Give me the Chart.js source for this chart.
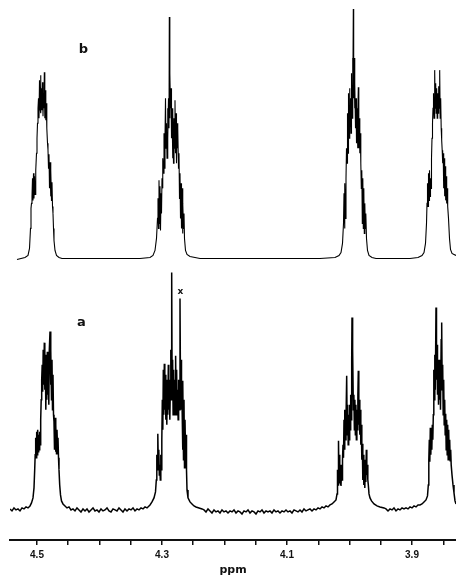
<!DOCTYPE html>
<html lang="en">
<head>
    <meta charset="UTF-8">
    <title>1H NMR spectrum, 3.85 - 4.5 ppm</title>
    <script src="https://cdn.jsdelivr.net/npm/chart.js@4.4.0/dist/chart.umd.min.js"></script>
    <style>
        body {
            margin: 0;
            padding: 0;
            background-color: #fff;
        }
        .chart-box {
            width: 456px;
            height: 576px;
            position: relative;
        }
    </style>
</head>
<body>
    <div class="chart-box">
        <canvas id="nmrChart"></canvas>
    </div>

    <script>
        // axis ticks (ppm), labelled every 0.2
        const tickPpm = [4.5, 4.45, 4.4, 4.35, 4.3, 4.25, 4.2, 4.15, 4.1, 4.05, 4.0, 3.95, 3.9, 3.85];
        const labelPpm = [4.5, 4.3, 4.1, 3.9];
        const traceNames = ['a', 'b'];
        const markedPeakPpm = 4.2712;   // "x" in trace a

        // trace b (simulated) : [ppm, relative intensity]
        const bM1 = [
            [4.5320, -1], [4.5192, 1], [4.5144, 3], [4.5120, 10], [4.5104, 30], [4.5096, 50], [4.5088, 55],
            [4.5080, 62], [4.5072, 80], [4.5064, 58], [4.5056, 85], [4.5048, 60], [4.5040, 82], [4.5032, 64], [4.5024, 78], [4.5016, 88],
            [4.5008, 105], [4.5000, 120], [4.4992, 135], [4.4984, 150],
            [4.4976, 160], [4.4968, 140], [4.4960, 178], [4.4952, 150], [4.4944, 183], [4.4936, 145], [4.4928, 170], [4.4920, 148],
            [4.4912, 176], [4.4904, 142], [4.4896, 165], [4.4888, 150], [4.4883, 186], [4.4875, 140], [4.4867, 168], [4.4859, 138],
            [4.4851, 155], [4.4843, 130], [4.4832, 115], [4.4824, 108],
            [4.4816, 90], [4.4808, 104], [4.4800, 70], [4.4792, 96], [4.4784, 62], [4.4776, 88], [4.4768, 58], [4.4760, 76], [4.4752, 52],
            [4.4744, 45], [4.4736, 30], [4.4728, 18], [4.4712, 8], [4.4688, 3], [4.4648, 1], [4.4600, 0]
        ];
        const bM2 = [
            [4.3352, 0], [4.3192, 1], [4.3144, 3], [4.3112, 8], [4.3088, 20], [4.3072, 40],
            [4.3064, 60], [4.3056, 30], [4.3048, 78], [4.3040, 35], [4.3032, 72], [4.3024, 28], [4.3016, 65], [4.3008, 45], [4.3000, 80], [4.2992, 70],
            [4.2984, 100], [4.2976, 85], [4.2968, 125], [4.2960, 90], [4.2952, 120], [4.2944, 160], [4.2936, 110], [4.2928, 135],
            [4.2920, 100], [4.2912, 150], [4.2904, 120], [4.2896, 160], [4.2888, 130], [4.2883, 241], [4.2877, 140], [4.2872, 185],
            [4.2864, 150], [4.2856, 170], [4.2848, 120],
            [4.2840, 150], [4.2832, 100], [4.2824, 145], [4.2816, 95], [4.2808, 140], [4.2800, 110], [4.2792, 158], [4.2784, 105],
            [4.2776, 145], [4.2768, 95], [4.2760, 135], [4.2752, 110], [4.2744, 130], [4.2736, 90], [4.2728, 105],
            [4.2720, 60], [4.2712, 85], [4.2704, 40], [4.2696, 75], [4.2688, 30], [4.2680, 70], [4.2672, 25], [4.2664, 55], [4.2656, 30], [4.2648, 45],
            [4.2640, 20], [4.2624, 8], [4.2600, 4], [4.2552, 2], [4.2472, 1], [4.2392, 0]
        ];
        const bM3 = [
            [4.0472, 0], [4.0232, 1], [4.0168, 3], [4.0136, 6], [4.0112, 15], [4.0096, 35],
            [4.0088, 65], [4.0080, 30], [4.0072, 75], [4.0064, 40], [4.0056, 80],
            [4.0048, 110], [4.0040, 95], [4.0032, 145], [4.0024, 105], [4.0016, 165], [4.0008, 120], [4.0000, 170], [3.9992, 130],
            [3.9984, 160], [3.9976, 125], [3.9968, 185], [3.9960, 140], [3.9952, 200], [3.9944, 150], [3.9939, 249], [3.9933, 160], [3.9928, 200], [3.9920, 150],
            [3.9912, 175], [3.9904, 130], [3.9896, 160], [3.9888, 115], [3.9880, 150], [3.9872, 110], [3.9864, 140], [3.9859, 171],
            [3.9851, 110], [3.9843, 140], [3.9835, 105], [3.9827, 125], [3.9819, 95],
            [3.9811, 70], [3.9803, 88], [3.9795, 35], [3.9787, 80], [3.9779, 30], [3.9771, 70], [3.9763, 25], [3.9755, 55], [3.9747, 30], [3.9739, 45],
            [3.9728, 20], [3.9712, 8], [3.9688, 3], [3.9640, 1], [3.9576, 0]
        ];
        const bM4 = [
            [3.9032, 0], [3.8904, 1], [3.8840, 3], [3.8808, 6], [3.8784, 15], [3.8768, 35], [3.8760, 55],
            [3.8752, 75], [3.8744, 52], [3.8736, 85], [3.8728, 58], [3.8720, 88], [3.8712, 62], [3.8704, 80], [3.8696, 70],
            [3.8688, 100], [3.8680, 120], [3.8672, 135], [3.8664, 150],
            [3.8656, 165], [3.8648, 140], [3.8637, 188], [3.8629, 150], [3.8621, 175], [3.8613, 145], [3.8605, 170], [3.8597, 140],
            [3.8589, 165], [3.8581, 145], [3.8573, 172], [3.8565, 150], [3.8557, 188], [3.8549, 140], [3.8541, 160], [3.8533, 130],
            [3.8525, 118], [3.8517, 108],
            [3.8509, 95], [3.8501, 105], [3.8493, 70], [3.8485, 100], [3.8477, 62], [3.8469, 92], [3.8461, 58], [3.8453, 82],
            [3.8445, 55], [3.8437, 70], [3.8429, 52],
            [3.8416, 40], [3.8400, 20], [3.8384, 9], [3.8360, 5], [3.8328, 4], [3.8296, 3]
        ];

        // trace a (observed) : [ppm, relative intensity]
        const aM1 = [
            [4.5432, 1], [4.5400, -1], [4.5368, 2], [4.5336, 0], [4.5304, 1], [4.5272, -1], [4.5240, 2], [4.5208, 1],
            [4.5176, 3], [4.5144, 2], [4.5112, 4], [4.5088, 7], [4.5064, 12], [4.5048, 22], [4.5037, 40], [4.5029, 55],
            [4.5021, 72], [4.5013, 52], [4.5005, 78], [4.4997, 55], [4.4989, 80], [4.4981, 58], [4.4973, 75], [4.4965, 60], [4.4957, 78], [4.4949, 65],
            [4.4941, 90], [4.4933, 110], [4.4925, 130],
            [4.4917, 145], [4.4909, 118], [4.4901, 160], [4.4893, 125], [4.4883, 167], [4.4875, 120], [4.4867, 155], [4.4859, 100],
            [4.4851, 150], [4.4843, 110], [4.4835, 158], [4.4827, 115], [4.4819, 150], [4.4811, 105], [4.4803, 160], [4.4792, 178],
            [4.4784, 125], [4.4776, 160], [4.4768, 110], [4.4760, 150], [4.4752, 100], [4.4744, 135],
            [4.4736, 95], [4.4728, 88], [4.4720, 60], [4.4712, 92], [4.4704, 58], [4.4696, 85], [4.4688, 56], [4.4680, 80], [4.4672, 62], [4.4664, 72],
            [4.4656, 52], [4.4648, 40], [4.4637, 25], [4.4624, 15], [4.4608, 9], [4.4584, 6], [4.4552, 4], [4.4520, 2], [4.4488, 3], [4.4456, 0]
        ];
        const aBase1 = [
            [4.4424, 1], [4.4392, -1], [4.4360, 2], [4.4328, 0], [4.4296, -2], [4.4264, 1], [4.4232, -1], [4.4200, 1],
            [4.4168, -2], [4.4136, 0], [4.4104, 2], [4.4072, -1], [4.4040, 0], [4.4008, -2], [4.3976, 1], [4.3944, -1],
            [4.3912, 0], [4.3880, 2], [4.3848, -1], [4.3816, -2], [4.3784, 1], [4.3752, 0], [4.3720, -1], [4.3688, 2],
            [4.3656, 0], [4.3624, -2], [4.3592, 1], [4.3560, -1], [4.3528, 1], [4.3496, 0], [4.3464, 2], [4.3432, -1],
            [4.3400, 1], [4.3368, 0], [4.3336, 2], [4.3304, 1], [4.3272, 3], [4.3240, 2], [4.3208, 4]
        ];
        const aM2 = [
            [4.3192, 5], [4.3160, 8], [4.3128, 12], [4.3104, 18], [4.3091, 30],
            [4.3083, 55], [4.3075, 40], [4.3067, 76], [4.3059, 45], [4.3051, 60], [4.3043, 35], [4.3035, 45], [4.3027, 30], [4.3019, 55], [4.3011, 40], [4.3003, 70],
            [4.2995, 110], [4.2987, 80], [4.2979, 140], [4.2971, 95], [4.2963, 146], [4.2955, 100], [4.2947, 135], [4.2939, 90], [4.2931, 120], [4.2923, 85],
            [4.2915, 130], [4.2907, 95], [4.2899, 145], [4.2891, 100], [4.2883, 130], [4.2875, 90], [4.2867, 120], [4.2859, 160], [4.2851, 110],
            [4.2845, 237], [4.2838, 120], [4.2830, 150], [4.2822, 95],
            [4.2814, 140], [4.2806, 100], [4.2798, 130], [4.2790, 95], [4.2782, 154], [4.2774, 105], [4.2766, 140], [4.2758, 95],
            [4.2750, 120], [4.2742, 90], [4.2734, 130], [4.2726, 100], [4.2712, 211], [4.2704, 120], [4.2696, 150], [4.2688, 100],
            [4.2680, 110], [4.2672, 60], [4.2664, 129], [4.2656, 50], [4.2648, 110], [4.2640, 42], [4.2632, 90], [4.2624, 60], [4.2616, 75],
            [4.2608, 40], [4.2600, 20], [4.2584, 12], [4.2552, 8], [4.2520, 6], [4.2488, 4], [4.2456, 3], [4.2408, 2], [4.2360, 1]
        ];
        const aBase2 = [
            [4.2328, 0], [4.2296, -2], [4.2264, 1], [4.2232, -1], [4.2200, -3], [4.2168, 0], [4.2136, -2], [4.2104, -1],
            [4.2072, -3], [4.2040, 0], [4.2008, -2], [4.1976, -1], [4.1944, -3], [4.1912, -1], [4.1880, -2], [4.1848, 0],
            [4.1816, -3], [4.1784, -1], [4.1752, -2], [4.1720, -4], [4.1688, -1], [4.1656, -2], [4.1624, 0], [4.1592, -3],
            [4.1560, -1], [4.1528, -2], [4.1496, -4], [4.1464, -1], [4.1432, -2], [4.1400, 0], [4.1368, -3], [4.1336, -1],
            [4.1304, -2], [4.1272, -1], [4.1240, -3], [4.1208, 0], [4.1176, -2], [4.1144, -1], [4.1112, -3], [4.1080, -1],
            [4.1048, -2], [4.1016, 0], [4.0984, -2], [4.0952, -1], [4.0920, -3], [4.0888, 0], [4.0856, -1], [4.0824, -2],
            [4.0792, 0], [4.0760, -2], [4.0728, 1], [4.0696, -1], [4.0664, 0], [4.0632, 1], [4.0600, -1], [4.0568, 1],
            [4.0536, 0], [4.0504, 2], [4.0472, 1], [4.0440, 3], [4.0408, 2], [4.0376, 4], [4.0344, 3]
        ];
        const aM3 = [
            [4.0312, 5], [4.0280, 6], [4.0248, 8], [4.0216, 10], [4.0200, 16],
            [4.0192, 40], [4.0184, 25], [4.0176, 69], [4.0168, 30], [4.0160, 55], [4.0152, 28], [4.0144, 45], [4.0136, 24], [4.0128, 40], [4.0120, 30], [4.0112, 50],
            [4.0104, 65], [4.0096, 52], [4.0088, 90], [4.0080, 60], [4.0072, 100], [4.0064, 70], [4.0056, 90], [4.0045, 134],
            [4.0037, 75], [4.0029, 105], [4.0021, 65], [4.0013, 95], [4.0005, 70], [3.9997, 105], [3.9989, 80], [3.9981, 115], [3.9973, 90],
            [3.9965, 150], [3.9960, 192], [3.9954, 130], [3.9946, 160], [3.9938, 100],
            [3.9930, 115], [3.9922, 80], [3.9914, 110], [3.9906, 75], [3.9898, 105], [3.9890, 70], [3.9882, 100], [3.9874, 80],
            [3.9866, 115], [3.9859, 139], [3.9851, 85], [3.9843, 110], [3.9835, 75], [3.9827, 100], [3.9819, 65], [3.9811, 85],
            [3.9803, 50], [3.9795, 66], [3.9787, 30], [3.9779, 55], [3.9771, 25], [3.9763, 45], [3.9755, 22], [3.9747, 50],
            [3.9739, 28], [3.9731, 60], [3.9723, 35], [3.9715, 45], [3.9707, 30], [3.9699, 25],
            [3.9688, 16], [3.9672, 12], [3.9648, 9], [3.9608, 6], [3.9560, 4], [3.9512, 3], [3.9448, 2]
        ];
        const aBase3 = [
            [3.9416, 1], [3.9384, -1], [3.9352, 1], [3.9320, 0], [3.9288, 2], [3.9256, -1], [3.9224, 1], [3.9192, 0],
            [3.9160, 2], [3.9128, 1], [3.9096, 2], [3.9064, 1], [3.9032, 3], [3.9000, 2], [3.8968, 4], [3.8936, 3],
            [3.8904, 5], [3.8872, 5], [3.8840, 6], [3.8808, 8], [3.8776, 10]
        ];
        const aM4 = [
            [3.8752, 14], [3.8739, 25], [3.8731, 50], [3.8723, 70], [3.8715, 48], [3.8707, 82], [3.8699, 55], [3.8691, 78],
            [3.8683, 60], [3.8675, 85], [3.8667, 70], [3.8659, 95],
            [3.8651, 140], [3.8643, 110], [3.8635, 155], [3.8627, 120], [3.8616, 202], [3.8608, 130], [3.8600, 165], [3.8592, 115],
            [3.8584, 150], [3.8576, 105], [3.8568, 140], [3.8560, 110], [3.8552, 150], [3.8544, 100], [3.8533, 170], [3.8525, 187],
            [3.8517, 120], [3.8509, 145], [3.8501, 95], [3.8493, 130], [3.8485, 85], [3.8477, 110], [3.8469, 75],
            [3.8461, 96], [3.8453, 60], [3.8445, 90], [3.8437, 55], [3.8429, 85], [3.8421, 50], [3.8413, 80], [3.8405, 52],
            [3.8397, 70], [3.8389, 49], [3.8381, 60], [3.8373, 45],
            [3.8360, 35], [3.8344, 25], [3.8328, 17], [3.8312, 9], [3.8296, 6]
        ];

        const toXY = pts => pts.map(p => ({ x: p[0], y: p[1] }));
        const traceA = toXY([...aM1, ...aBase1, ...aM2, ...aBase2, ...aM3, ...aBase3, ...aM4]);
        const traceB = toXY([...bM1, ...bM2, ...bM3, ...bM4]);

        // letters a / b and the x mark, drawn at data positions
        const labelPlugin = {
            id: 'traceLabels',
            afterDatasetsDraw(chart) {
                const ctx = chart.ctx;
                const xs = chart.scales.x;
                const ya = chart.scales.yA;
                const yb = chart.scales.yB;
                ctx.save();
                ctx.fillStyle = '#111';
                ctx.textAlign = 'center';
                ctx.textBaseline = 'alphabetic';
                ctx.font = 'bold 13px "DejaVu Sans"';
                ctx.fillText(traceNames[1], xs.getPixelForValue(4.4256), yb.getPixelForValue(205));
                ctx.fillText(traceNames[0], xs.getPixelForValue(4.4288), ya.getPixelForValue(184));
                ctx.font = 'bold 9px "DejaVu Sans"';
                ctx.fillText('x', xs.getPixelForValue(markedPeakPpm - 0.0008), ya.getPixelForValue(216));
                ctx.restore();
            }
        };

        const lineStyle = {
            borderColor: '#000',
            pointRadius: 0,
            tension: 0,
            fill: false
        };

        new Chart(document.getElementById('nmrChart'), {
            type: 'line',
            data: {
                datasets: [
                    { label: 'b', data: traceB, yAxisID: 'yB', borderWidth: 1.1, ...lineStyle },
                    { label: 'a', data: traceA, yAxisID: 'yA', borderWidth: 1.5, ...lineStyle }
                ]
            },
            options: {
                responsive: true,
                maintainAspectRatio: false,
                animation: false,
                layout: { padding: { left: 10, right: 0, top: 0, bottom: 0 } },
                plugins: {
                    legend: { display: false },
                    tooltip: { enabled: false }
                },
                scales: {
                    x: {
                        type: 'linear',
                        reverse: true,
                        min: 3.8296,
                        max: 4.5432,
                        afterBuildTicks: scale => {
                            scale.ticks = tickPpm.map(v => ({ value: v }));
                        },
                        ticks: {
                            autoSkip: false,
                            maxRotation: 0,
                            padding: 5,
                            color: '#111',
                            font: { family: '"Liberation Sans"', size: 10, weight: 'bold', lineHeight: 1.0 },
                            callback: v => labelPpm.some(l => Math.abs(l - v) < 1e-6) ? v.toFixed(1) : ''
                        },
                        grid: {
                            drawOnChartArea: false,
                            drawTicks: true,
                            tickLength: 5,
                            color: '#111',
                            lineWidth: 1.5
                        },
                        border: { display: true, color: '#111', width: 2 },
                        title: {
                            display: true,
                            text: 'ppm',
                            color: '#111',
                            font: { family: '"DejaVu Sans"', size: 11, weight: 'bold', lineHeight: 1.0 },
                            padding: { top: 0, bottom: 0 }
                        }
                    },
                    yA: { display: false, min: -30, max: 509 },
                    yB: { display: false, min: -281, max: 258 }
                }
            },
            plugins: [labelPlugin]
        });
    </script>
</body>
</html>
